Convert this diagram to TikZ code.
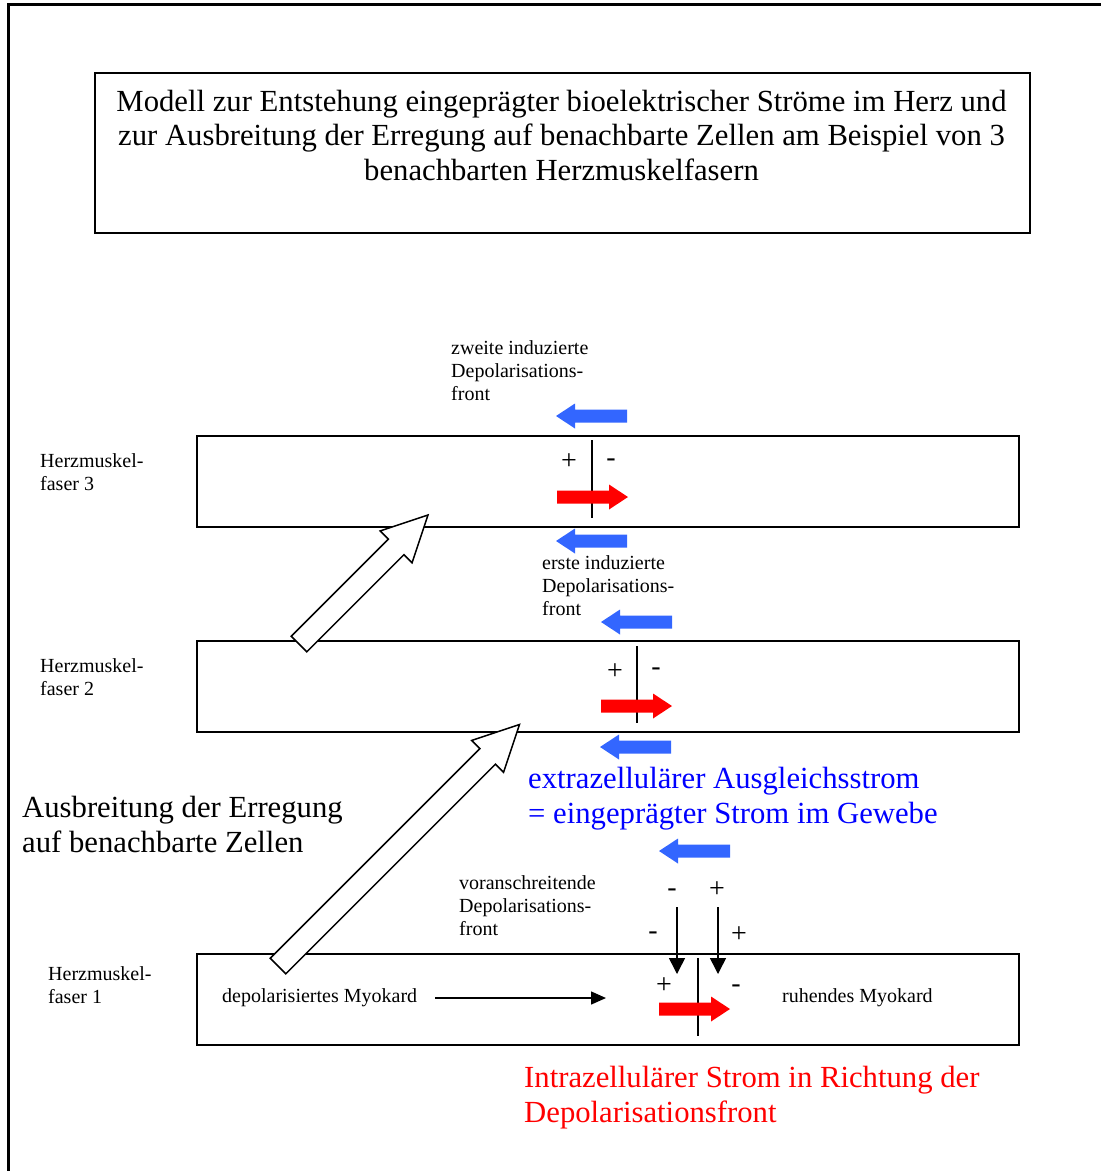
\documentclass[tikz,border=0pt]{standalone}
\usepackage{fontspec}
\setmainfont{Liberation Serif}
\usetikzlibrary{arrows.meta}
\definecolor{arrblue}{RGB}{51,102,255}
\definecolor{txtblue}{RGB}{0,0,255}
\definecolor{txtred}{RGB}{255,0,0}
\begin{document}
\begin{tikzpicture}[x=1pt,y=-1pt,
  small/.style={font=\fontsize{20}{23}\selectfont, inner sep=0pt, align=left, anchor=base west},
  big/.style={font=\fontsize{30.7}{34.5}\selectfont, inner sep=0pt, align=left, anchor=base west},
  sign/.style={font=\fontsize{28}{30}\selectfont, inner sep=0pt, anchor=center},
  fiberbox/.style={draw, line width=1.8pt, minimum width=822pt, minimum height=91pt, anchor=north west, inner sep=0pt},
  frontline/.style={line width=2pt},
  conn/.style={line width=1.5pt, -{Triangle[length=16pt,width=16pt]}},
  rarr/.pic={\fill (0,-6.5) -- (52,-6.5) -- (52,-12.5) -- (71,0) -- (52,12.5) -- (52,6.5) -- (0,6.5) -- cycle;},
  larr/.pic={\fill (0,0) -- (19,-12.5) -- (19,-6.5) -- (71,-6.5) -- (71,6.5) -- (19,6.5) -- (19,12.5) -- cycle;},
  hollowarrow/.pic={\draw[line width=1.5pt, fill=white, line join=miter] (0,-11) -- (#1-45,-11) -- (#1-45,-22.5) -- (#1,0) -- (#1-45,22.5) -- (#1-45,11) -- (0,11) -- cycle;}
]
\useasboundingbox (0,0) rectangle (1101,1171);
% outer frame (only left and top edges visible)
\draw[line width=3pt] (8,1180) -- (8,4.3) -- (1110,4.3);

% title
\node[draw, line width=1.5pt, minimum width=935pt, minimum height=160pt, anchor=north west, inner sep=0pt] (titlebox) at (94,72) {};
\node[font=\fontsize{30.7}{34.5}\selectfont, inner sep=0pt, align=center, anchor=base] (titletext) at (561.5,180)
  {Modell zur Entstehung eingeprägter bioelektrischer Ströme im Herz und\\
   zur Ausbreitung der Erregung auf benachbarte Zellen am Beispiel von 3\\
   benachbarten Herzmuskelfasern};

% fibers
\node[fiberbox] (f3) at (196,435) {};
\node[fiberbox] (f2) at (196,640) {};
\node[fiberbox] (f1) at (196,953) {};

\node[small] (l3) at (40,490) {Herzmuskel-\\faser 3};
\node[small] (l2) at (40,695) {Herzmuskel-\\faser 2};
\node[small] (l1) at (48,1003) {Herzmuskel-\\faser 1};

% fiber 3
\node[small] (zw) at (451,400) {zweite induzierte\\Depolarisations-\\front};
\pic[arrblue] at (556,416) {larr};
\draw[frontline] (592,440) -- (592,518);
\node[sign] (p3) at (569,462) {+};
\node[sign] (m3) at (611,463) {-};
\pic[red] at (557,497) {rarr};
\pic[arrblue] at (556,541) {larr};

% fiber 2
\node[small] (er) at (542,615) {erste induzierte\\Depolarisations-\\front};
\pic[arrblue] at (601,622) {larr};
\draw[frontline] (637,646) -- (637,723);
\node[sign] (p2) at (615,672) {+};
\node[sign] (m2) at (656,672) {-};
\pic[red] at (601,706) {rarr};
\pic[arrblue] at (600,747) {larr};

\node[big, text=txtblue] (ext) at (528,823) {extrazellulärer Ausgleichsstrom\\= eingeprägter Strom im Gewebe};
\node[big] (ausb) at (22,852) {Ausbreitung der Erregung\\auf benachbarte Zellen};

% fiber 1
\pic[arrblue] at (659,851) {larr};
\node[small] (vor) at (459,935) {voranschreitende\\Depolarisations-\\front};
\node[sign] (sa) at (672,893) {-};
\node[sign] (sb) at (717,890) {+};
\node[sign] (sc) at (653,936) {-};
\node[sign] (sd) at (739,935) {+};
\coordinate (va1) at (677,907);
\coordinate (vb1) at (677,974);
\coordinate (va2) at (718,907);
\coordinate (vb2) at (718,974);
\draw[conn] (va1) -- (vb1);
\draw[conn] (va2) -- (vb2);
\draw[frontline] (698,958) -- (698,1036);
\node[sign] (p1) at (664,986) {+};
\node[sign] (m1) at (736,989) {-};
\pic[red] at (659,1009) {rarr};
\node[small] (dep) at (222,1002) {depolarisiertes Myokard};
\node[small] (ruh) at (782,1002) {ruhendes Myokard};
\coordinate (ha) at (435,998);
\coordinate (hb) at (606,998);
\draw[line width=1.5pt, -{Triangle[length=15pt,width=13pt]}] (ha) -- (hb);

\node[big, text=txtred] (intra) at (524,1122) {Intrazellulärer Strom in Richtung der\\Depolarisationsfront};

% hollow propagation arrows
\coordinate (a1tail) at (299,644);
\coordinate (a2tail) at (278,966);
\pic[rotate=45] at (a1tail) {hollowarrow=182.4};
\pic[rotate=45] at (a2tail) {hollowarrow=341.5};
\end{tikzpicture}
\end{document}
